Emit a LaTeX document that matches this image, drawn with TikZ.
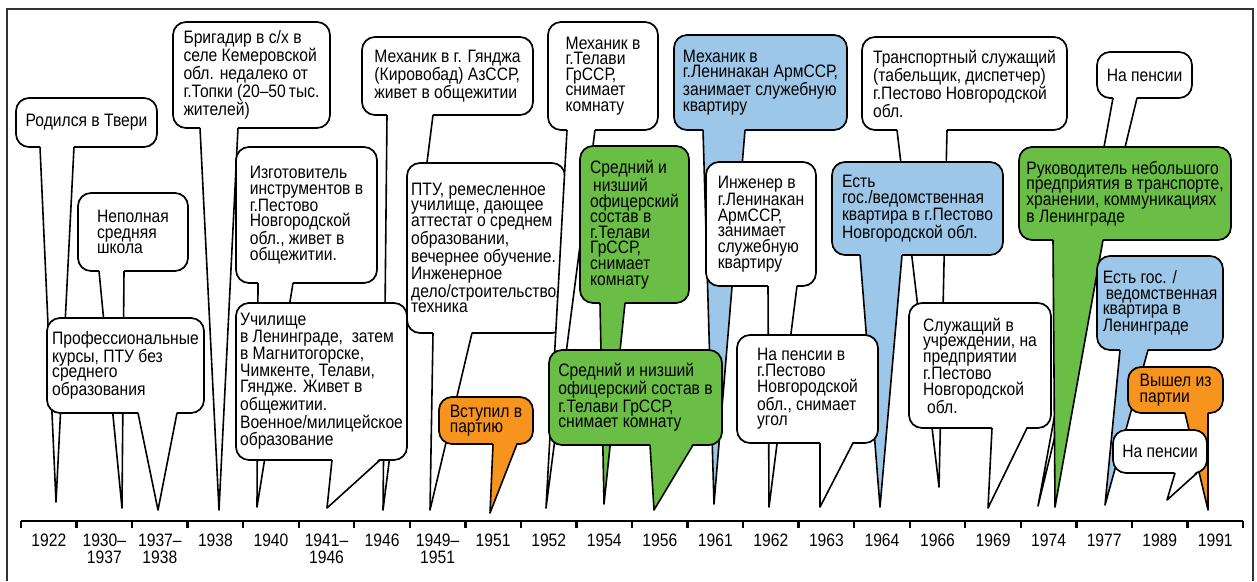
\documentclass[tikz,border=0pt]{standalone}
\usepackage{fontspec}
\setmainfont{Liberation Sans}[FakeStretch=0.87]
\usepackage{xcolor}
\usetikzlibrary{calc, positioning}

\definecolor{leafgreen}{RGB}{106,189,69}
\definecolor{skyblue}{RGB}{157,199,233}
\definecolor{partyorange}{RGB}{247,148,29}

\newcommand{\bubblefont}{\fontsize{18}{15.6}\selectfont}
% tail of a callout: box, colour, left x, right x, tip
\newcommand{\tail}[5]{%
  \fill[#2] ($(#3,0 |- #1.south)+(0,-2)$) -- (#5) -- ($(#4,0 |- #1.south)+(0,-2)$) -- cycle;
  \draw[tailline] (#3,0 |- #1.south) -- (#5) -- (#4,0 |- #1.south);
}

\begin{document}
\begin{tikzpicture}[x=1pt, y=-1pt,
    bubble/.style={draw, line width=1.7pt, rounded corners=13pt, anchor=north west,
      align=left, inner sep=2pt, outer sep=0pt, font=\bubblefont},
    tailline/.style={line width=1.6pt, line join=round},
    yearlabel/.style={anchor=north, align=center, inner sep=0pt,
      font=\fontsize{18}{17}\selectfont}]
    \useasboundingbox (0,0) rectangle (1257,581);

    % Frame
    \draw[line width=2pt, black!80] (7,581) -- (7,9) -- (1253,9) -- (1253,581);

    % Tips of the callouts on the time axis
    \coordinate (t1922) at (56,502);
    \coordinate (t1930) at (122,508);
    \coordinate (t1937) at (158,510);
    \coordinate (t1938) at (219,510);
    \coordinate (t1940) at (257,507);
    \coordinate (t1941) at (327,508);
    \coordinate (t1946) at (383,510);
    \coordinate (t1949) at (430,510);
    \coordinate (t1951) at (490,513);
    \coordinate (t1952) at (546,508);
    \coordinate (t1954) at (604,504);
    \coordinate (t1956) at (654,510);
    \coordinate (t1961) at (714,504);
    \coordinate (t1962) at (769,507);
    \coordinate (t1963) at (820,507);
    \coordinate (t1964) at (880,507);
    \coordinate (t1966) at (939,487);
    \coordinate (t1969) at (988,508);
    \coordinate (t1974a) at (1038,506);
    \coordinate (t1974b) at (1055,507);
    \coordinate (t1977) at (1105,505);
    \coordinate (t1989) at (1167,500);
    \coordinate (t1991) at (1208,510);

    % Callouts, back to front
    \node[bubble, fill=white, minimum width=141pt, minimum height=49pt] (born) at (16,98) {Родился в Твери};
    \tail{born}{white}{40}{74}{t1922}

    \node[bubble, fill=white, minimum width=110pt, minimum height=78pt] (school) at (78,193) {Неполная\\средняя\\школа};
    \tail{school}{white}{99}{124}{t1930}

    \node[bubble, fill=white, minimum width=157pt, minimum height=95pt] (courses) at (47,318) {Профессиональные\\курсы, ПТУ без\\среднего\\образования};
    \tail{courses}{white}{138}{177}{t1937}

    \node[bubble, fill=white, minimum width=157pt, minimum height=106pt] (brigadier) at (173,22) {Бригадир в с/х в\\селе Кемеровской\\обл. недалеко от\\г.Топки (20–50\,тыс.\\жителей)};
    \tail{brigadier}{white}{200}{238}{t1938}

    \node[bubble, fill=white, minimum width=171pt, minimum height=78pt] (ganja) at (362,37) {Механик в г. Гянджа\\(Кировобад) АзССР,\\живет в общежитии};
    \tail{ganja}{white}{387}{433}{t1946}

    \node[bubble, fill=white, minimum width=141pt, minimum height=136pt] (toolmaker) at (236,147) {Изготовитель\\инструментов в\\г.Пестово\\Новгородской\\обл., живет в\\общежитии.};
    \tail{toolmaker}{white}{258}{293}{t1940}

    \node[bubble, fill=white, minimum width=171pt, minimum height=157pt] (college) at (236,303) {Училище\\в Ленинграде,\ \ затем\\в Магнитогорске,\\Чимкенте, Телави,\\Гяндже. Живет в\\общежитии.\\Военное/милицейское\\образование};
    \tail{college}{white}{332}{380}{t1941}

    \node[bubble, fill=white, minimum width=158pt, minimum height=170pt] (vocational) at (407,163) {ПТУ, ремесленное\\училище, дающее\\аттестат о среднем\\образовании,\\вечернее обучение.\\Инженерное\\дело/строительство/\\техника};
    \tail{vocational}{white}{433}{472}{t1949}

    \node[bubble, fill=partyorange, minimum width=94pt, minimum height=47pt] (joined) at (439,397) {Вступил в\\партию};
    \tail{joined}{partyorange}{493}{517}{t1951}

    \node[bubble, fill=white, minimum width=110pt, minimum height=108pt] (telavimech) at (548,22) {Механик в\\г.Телави\\ГрССР,\\снимает\\комнату};
    \tail{telavimech}{white}{567}{595}{t1952}

    \node[bubble, fill=leafgreen, minimum width=109pt, minimum height=157pt] (officertall) at (580,146) {Средний и\\\hspace*{3pt}низший\\офицерский\\состав в\\г.Телави\\ГрССР,\\снимает\\комнату};
    \tail{officertall}{leafgreen}{600}{625}{t1954}

    \node[bubble, fill=skyblue, minimum width=173pt, minimum height=95pt] (leninakanmech) at (674,35) {Механик в\\г.Ленинакан АрмССР,\\занимает служебную\\квартиру};
    \tail{leninakanmech}{skyblue}{703}{745}{t1961}

    \node[bubble, fill=leafgreen, minimum width=173pt, minimum height=95pt] (officerwide) at (549,350) {Средний и низший\\офицерский состав в\\г.Телави ГрССР,\\снимает комнату};
    \tail{officerwide}{leafgreen}{650}{693}{t1956}

    \node[bubble, fill=white, minimum width=110pt, minimum height=124pt] (engineer) at (706,162) {Инженер в\\г.Ленинакан\\АрмССР,\\занимает\\служебную\\квартиру};
    \tail{engineer}{white}{768}{797}{t1962}

    \node[bubble, fill=white, minimum width=205pt, minimum height=93pt] (transport) at (862,37) {Транспортный служащий\\(табельщик, диспетчер)\\г.Пестово Новгородской\\обл.};
    \tail{transport}{white}{897}{947}{t1966}

    \node[bubble, fill=skyblue, minimum width=171pt, minimum height=93pt] (flatpestovo) at (832,162) {Есть\\гос./ведомственная\\квартира в г.Пестово\\Новгородской обл.};
    \tail{flatpestovo}{skyblue}{860}{902}{t1964}

    \node[bubble, fill=white, minimum width=141pt, minimum height=108pt] (pensionpestovo) at (737,335) {На пенсии в\\г.Пестово\\Новгородской\\обл., снимает\\угол};
    \tail{pensionpestovo}{white}{820}{853}{t1963}

    \node[bubble, fill=white, minimum width=142pt, minimum height=125pt] (clerk) at (909,303) {Служащий в\\учреждении, на\\предприятии\\г.Пестово\\Новгородской\\\hspace*{4pt}обл.};
    \tail{clerk}{white}{992}{1027}{t1969}

    \node[bubble, fill=white, minimum width=95pt, minimum height=46pt] (pensiontop) at (1097,52) {На пенсии};
    \tail{pensiontop}{white}{1113}{1137}{t1974a}

    \node[bubble, fill=leafgreen, minimum width=212pt, minimum height=93pt] (manager) at (1019,147) {Руководитель небольшого\\предприятия в транспорте,\\хранении, коммуникациях\\в Ленинграде};
    \tail{manager}{leafgreen}{1053}{1103}{t1974b}

    \node[bubble, fill=skyblue, minimum width=126pt, minimum height=94pt] (flatleningrad) at (1097,256) {Есть гос. /\\\hspace*{3pt}ведомственная\\квартира в\\Ленинграде};
    \tail{flatleningrad}{skyblue}{1120}{1148}{t1977}

    \node[bubble, fill=partyorange, minimum width=95pt, minimum height=46pt] (leftparty) at (1128,367) {Вышел из\\партии};
    \tail{leftparty}{partyorange}{1185}{1208}{t1991}

    \node[bubble, fill=white, minimum width=94pt, minimum height=43pt] (pensionbottom) at (1113,430) {На пенсии};
    \tail{pensionbottom}{white}{1175}{1197}{t1989}

    % Time axis
    \draw[line width=2.7pt] (21,521) -- (1243,521);
    \foreach \i in {0,...,22}
        \draw[line width=2.4pt] (21+55.545*\i,521) -- ++(0,7);
    \foreach \lab [count=\i from 0] in {1922,{1930–\\1937},{1937–\\1938},1938,1940,{1941–\\1946},1946,{1949–\\1951},1951,1952,1954,1956,1961,1962,1963,1964,1966,1969,1974,1977,1989,1991}
        \node[yearlabel] (year\i) at (48.8+55.545*\i,534) {\lab};
\end{tikzpicture}
\end{document}
